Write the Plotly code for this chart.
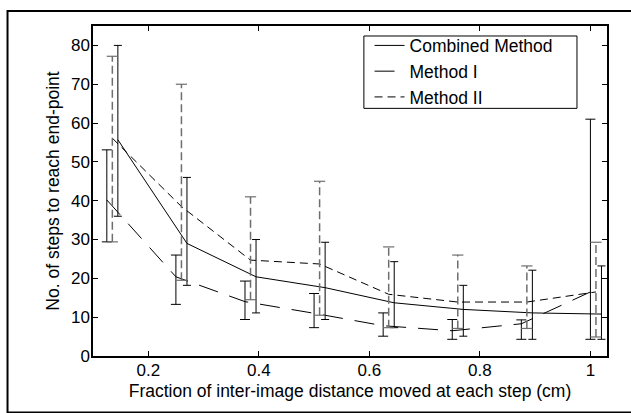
import plotly.graph_objects as go

# ---- data ----
x_comb = [0.145, 0.27, 0.395, 0.52, 0.645, 0.77, 0.895, 1.02]
mean_comb = [55.7, 29.0, 20.4, 17.6, 13.7, 12.0, 11.1, 10.8]
lo_comb = [36.0, 18.2, 11.1, 9.4, 7.3, 5.1, 4.3, 4.3]
hi_comb = [80.0, 46.0, 30.0, 29.3, 24.3, 18.2, 22.1, 23.2]

x_m1 = [0.125, 0.25, 0.375, 0.5, 0.625, 0.75, 0.875, 1.0]
mean_m1 = [40.2, 20.4, 14.0, 11.0, 7.8, 6.5, 8.3, 16.5]
lo_m1 = [29.4, 13.3, 9.4, 7.3, 5.1, 4.3, 4.3, 4.3]
hi_m1 = [53.1, 26.0, 19.3, 16.1, 11.1, 9.4, 9.3, 61.0]

x_m2 = [0.135, 0.26, 0.385, 0.51, 0.635, 0.76, 0.885, 1.01]
mean_m2 = [56.1, 38.5, 24.7, 23.7, 15.9, 13.9, 13.9, 16.5]
lo_m2 = [29.4, 19.5, 14.5, 10.5, 7.3, 7.1, 7.1, 4.9]
hi_m2 = [77.2, 70.0, 41.0, 45.0, 28.1, 26.0, 23.2, 29.3]

x_ticks = [0.2, 0.4, 0.6, 0.8, 1.0]
x_ticklabels = ["0.2", "0.4", "0.6", "0.8", "1"]
y_ticks = [0, 10, 20, 30, 40, 50, 60, 70, 80]

series_names = ["Combined Method", "Method I", "Method II"]
x_title = "Fraction of inter-image distance moved at each step (cm)"
y_title = "No. of steps to reach end-point"

FONT = "Liberation Sans, Arial, sans-serif"
GRAY = "#6e6e6e"

fig = go.Figure()

# Combined Method: solid line, solid error bars
fig.add_trace(go.Scatter(
    x=x_comb, y=mean_comb, mode="lines", name=series_names[0],
    line=dict(color="black", width=1),
    error_y=dict(type="data", symmetric=False,
                 array=[h - m for h, m in zip(hi_comb, mean_comb)],
                 arrayminus=[m - l for m, l in zip(mean_comb, lo_comb)],
                 color="black", thickness=1, width=4),
))

# Method I: long-dash line, solid error bars
fig.add_trace(go.Scatter(
    x=x_m1, y=mean_m1, mode="lines", name=series_names[1],
    line=dict(color="black", width=1, dash="20px,12px"),
    error_y=dict(type="data", symmetric=False,
                 array=[h - m for h, m in zip(hi_m1, mean_m1)],
                 arrayminus=[m - l for m, l in zip(mean_m1, lo_m1)],
                 color="black", thickness=1, width=5),
))

# Method II: short-dash line
fig.add_trace(go.Scatter(
    x=x_m2, y=mean_m2, mode="lines", name=series_names[2],
    line=dict(color="black", width=1, dash="8px,5px"),
))

# Method II dashed gray error bars (vertical parts)
ex, ey = [], []
for x, lo, hi in zip(x_m2, lo_m2, hi_m2):
    ex += [x, x, None]
    ey += [lo, hi, None]
fig.add_trace(go.Scatter(
    x=ex, y=ey, mode="lines", showlegend=False, hoverinfo="skip",
    line=dict(color=GRAY, width=1.5, dash="8px,4px"),
))
# caps
fig.add_trace(go.Scatter(
    x=x_m2 + x_m2, y=lo_m2 + hi_m2, mode="markers", showlegend=False,
    hoverinfo="skip",
    marker=dict(symbol="line-ew", size=8, color=GRAY,
                line=dict(color=GRAY, width=1.2)),
))

axis_common = dict(
    showline=True, linecolor="black", linewidth=1.5, mirror="ticks",
    ticks="inside", ticklen=5, tickcolor="black", tickwidth=1,
    showgrid=False, zeroline=False, automargin=False,
    tickfont=dict(family=FONT, size=17, color="black"),
)

fig.update_layout(
    width=631, height=413,
    margin=dict(l=93, r=24, t=26, b=57),
    paper_bgcolor="white", plot_bgcolor="white",
    font=dict(family=FONT, size=17, color="black"),
    xaxis=dict(range=[0.1, 1.03], tickvals=x_ticks, ticktext=x_ticklabels,
               ticklabelstandoff=-2,
               title=dict(text=x_title, font=dict(size=17.5), standoff=6),
               **axis_common),
    yaxis=dict(range=[0, 85], tickvals=y_ticks, ticklabelstandoff=-2,
               title=dict(text=y_title, font=dict(size=17.5), standoff=7),
               **axis_common),
    legend=dict(x=0.538, y=0.862, xanchor="left", yanchor="middle",
                bgcolor="rgba(0,0,0,0)", borderwidth=0,
                font=dict(family=FONT, size=17.5, color="black"),
                tracegroupgap=0, itemwidth=30),
    shapes=[
        dict(type="rect", xref="paper", yref="paper",
             x0=-0.1663, x1=1.07, y0=-0.171, y1=1.0455,
             line=dict(color="black", width=2), layer="below"),
        # legend frame
        dict(type="rect", xref="paper", yref="paper",
             x0=0.527, x1=0.9416, y0=0.7504, y1=0.9697,
             line=dict(color="black", width=1), fillcolor="white",
             layer="above"),
    ],
    showlegend=True,
)

fig.write_html("out.html",
               config={"displayModeBar": False},
               post_script="document.body.style.margin='0';")
